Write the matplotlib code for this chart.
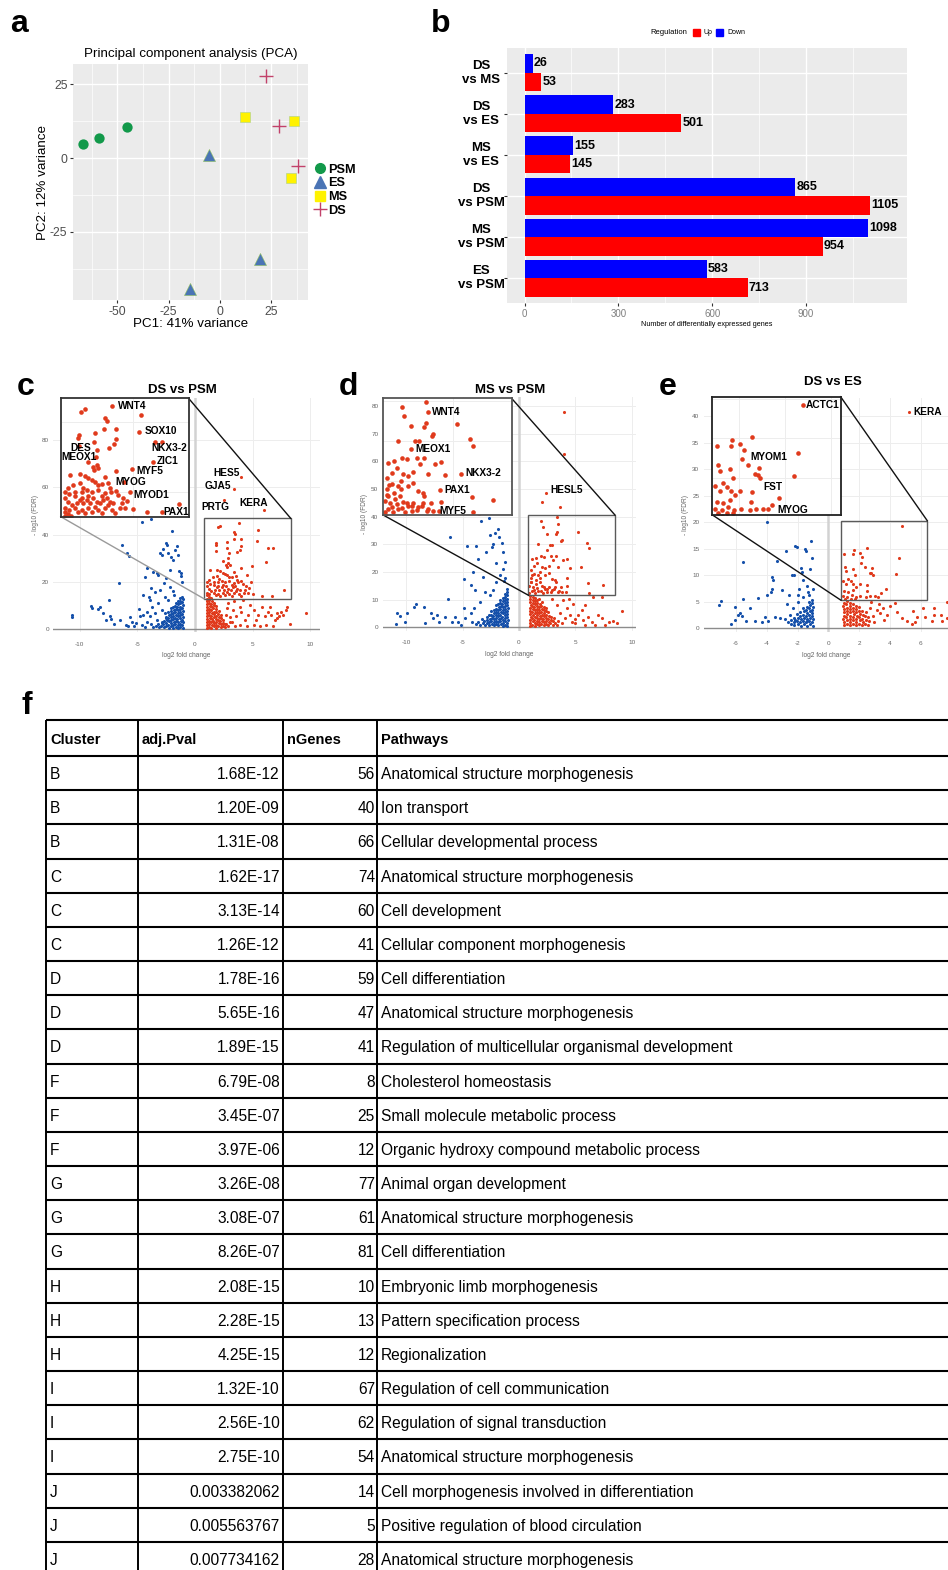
import numpy as np
import matplotlib.pyplot as plt
from matplotlib.patches import Rectangle
from matplotlib.lines import Line2D

plt.rcParams['font.family'] = ['Liberation Sans', 'DejaVu Sans']
plt.rcParams['axes.unicode_minus'] = False

W, H = 948, 1570
RED = '#E03A1C'
BLUE = '#1550AA'

# ---------------- data ----------------
# a: PCA
psm_pc1, psm_pc2 = [-66.7, -59.0, -45.2], [4.8, 6.8, 10.4]
es_pc1, es_pc2 = [-5.2, 19.8, -14.5], [1.0, -34.1, -44.3]
ms_pc1, ms_pc2 = [12.5, 36.4, 34.6], [14.0, 12.6, -6.7]
ds_pc1, ds_pc2 = [22.3, 28.9, 37.9], [27.8, 10.8, -2.6]

# b: number of DE genes
comparisons = ['DS\nvs MS', 'DS\nvs ES', 'MS\nvs ES', 'DS\nvs PSM', 'MS\nvs PSM', 'ES\nvs PSM']
deg_down = [26, 283, 155, 865, 1098, 583]
deg_up = [53, 501, 145, 1105, 954, 713]

# c: DS vs PSM volcano
c_down = [(-10.7, 6.1), (-10.7, 5.1), (-9.0, 9.9), (-8.9, 8.9), (-8.4, 8.5), (-8.2, 9.3), (-8.0, 7.0),
          (-7.5, 12.4), (-7.7, 3.9), (-7.4, 5.4), (-7.3, 4.5), (-7.0, 2.3), (-6.6, 19.7), (-6.5, 3.9),
          (-6.3, 35.8), (-5.9, 32.1), (-5.7, 31.1), (-6.0, 1.8), (-5.8, 1.4), (-5.6, 5.1), (-5.5, 3.1),
          (-5.3, 1.4), (-4.9, 8.5), (-4.8, 5.4), (-4.6, 45.4), (-3.8, 46.8), (-4.5, 14.4), (-4.2, 25.8),
          (-4.3, 22.0), (-4.0, 13.8), (-3.9, 12.4), (-3.8, 17.3), (-3.6, 24.4), (-3.3, 23.7), (-3.2, 23.0),
          (-3.0, 32.4), (-2.8, 33.8), (-2.9, 31.4), (-2.5, 36.6), (-2.4, 35.6), (-2.3, 32.1), (-2.1, 30.7),
          (-2.0, 41.7), (-2.2, 25.1), (-1.9, 29.3), (-1.7, 33.5), (-1.6, 35.2), (-1.5, 31.4), (-1.4, 24.8),
          (-1.2, 23.9), (-1.2, 22.5), (-1.1, 20.1), (-2.5, 21.5), (-2.7, 19.4), (-3.0, 16.6), (-3.5, 15.9),
          (-2.2, 17.7), (-1.9, 16.3), (-1.8, 14.5), (-2.6, 13.8), (-2.3, 12.4), (-3.2, 11.0), (-3.7, 9.6),
          (-4.2, 7.5), (-4.5, 6.1), (-3.9, 5.4), (-3.5, 6.8), (-2.9, 8.2), (-2.6, 6.8), (-3.3, 3.9),
          (-2.9, 3.2), (-2.5, 4.6), (-5.1, 2.5), (-4.6, 1.8), (-4.2, 3.2), (-3.8, 2.3), (-4.3, 1.1), (-3.6, 0.8),
          (-1.05, 0.4), (-1.1, 1.6), (-1.05, 2.9), (-1.12, 4.1), (-1.04, 5.3), (-1.1, 6.6), (-1.06, 7.8),
          (-1.13, 9.0), (-1.05, 10.2), (-1.1, 11.5), (-1.07, 12.7), (-1.12, 13.8),
          (-1.28, 0.9), (-1.3, 2.2), (-1.25, 3.5), (-1.32, 4.7), (-1.27, 6.0), (-1.3, 7.2), (-1.26, 8.4),
          (-1.33, 9.6), (-1.28, 10.9), (-1.31, 12.1), (-1.26, 13.3),
          (-1.48, 0.5), (-1.5, 1.7), (-1.45, 3.0), (-1.52, 4.3), (-1.47, 5.5), (-1.5, 6.8), (-1.46, 8.0),
          (-1.53, 9.3), (-1.48, 10.5), (-1.5, 11.8),
          (-1.68, 1.1), (-1.7, 2.4), (-1.66, 3.6), (-1.72, 4.9), (-1.67, 6.1), (-1.7, 7.4), (-1.65, 8.7),
          (-1.72, 10.0), (-1.69, 11.2),
          (-1.88, 0.6), (-1.9, 1.9), (-1.86, 3.1), (-1.92, 4.4), (-1.87, 5.7), (-1.9, 7.0), (-1.85, 8.3), (-1.91, 9.6),
          (-2.08, 1.2), (-2.1, 2.5), (-2.06, 3.8), (-2.12, 5.1), (-2.07, 6.4), (-2.1, 7.7), (-2.05, 9.0),
          (-2.28, 0.7), (-2.3, 2.0), (-2.26, 3.3), (-2.32, 4.6), (-2.27, 5.9), (-2.3, 7.2),
          (-2.5, 1.3), (-2.52, 2.6), (-2.47, 3.9), (-2.53, 5.2),
          (-2.72, 0.8), (-2.75, 2.1), (-2.7, 3.4), (-2.95, 1.4), (-2.9, 2.7), (-3.15, 0.9), (-3.2, 2.2), (-3.4, 1.5)]

c_up = [(1.02, 0.5), (1.05, 1.8), (1.0, 3.0), (1.06, 4.3), (1.02, 5.5), (1.05, 6.8), (1.0, 8.0), (1.06, 9.3),
        (1.03, 10.5), (1.05, 11.8), (1.01, 13.0), (1.06, 14.3), (1.03, 15.3),
        (1.22, 1.1), (1.25, 2.4), (1.2, 3.6), (1.26, 4.9), (1.22, 6.1), (1.25, 7.4), (1.2, 8.6), (1.26, 9.9),
        (1.23, 11.1), (1.25, 12.4), (1.21, 13.6), (1.24, 14.8),
        (1.42, 0.6), (1.45, 1.9), (1.4, 3.1), (1.46, 4.4), (1.42, 5.7), (1.45, 6.9), (1.4, 8.2), (1.46, 9.4),
        (1.43, 10.7), (1.45, 12.0), (1.41, 13.2),
        (1.62, 1.2), (1.65, 2.5), (1.6, 3.7), (1.66, 5.0), (1.62, 6.3), (1.65, 7.5), (1.6, 8.8), (1.66, 10.1), (1.63, 11.3),
        (1.82, 0.7), (1.85, 2.0), (1.8, 3.2), (1.86, 4.5), (1.82, 5.8), (1.85, 7.1), (1.8, 8.4), (1.86, 9.7),
        (2.02, 1.3), (2.05, 2.6), (2.0, 3.9), (2.06, 5.2), (2.02, 6.5), (2.05, 7.8),
        (2.22, 0.8), (2.25, 2.1), (2.2, 3.4), (2.26, 4.7), (2.22, 6.0),
        (2.42, 1.4), (2.45, 2.7), (2.4, 4.0), (2.62, 0.9), (2.65, 2.2), (2.85, 1.5), (3.0, 3.0),
        (9.6, 6.8), (8.2, 2.3), (7.5, 7.5), (7.6, 6.1), (7.3, 5.4), (7.1, 4.6), (6.9, 3.9), (6.6, 6.1), (6.5, 9.6),
        (6.3, 7.5), (6.1, 5.4), (5.8, 9.6), (5.5, 6.1), (5.3, 3.9), (5.1, 8.2), (4.8, 10.3), (4.6, 6.1), (4.3, 3.9),
        (4.0, 7.5), (3.9, 9.6), (3.6, 5.4), (3.3, 8.2), (3.2, 3.2), (2.9, 11.0), (2.7, 6.1), (2.6, 2.3), (6.2, 1.8),
        (6.8, 1.4), (5.6, 1.4), (5.1, 1.8), (4.5, 1.4), (3.9, 1.8), (3.5, 1.4), (7.9, 8.2), (8.0, 9.3), (7.1, 6.8),
        (3.4, 11.8), (4.2, 12.2), (3.0, 5.0), (2.8, 8.8),
        (4.02, 64.2), (3.41, 59.2), (2.52, 54.6), (6.01, 50.5),
        (3.78, 44.8), (5.50, 42.1), (1.97, 43.1), (2.21, 43.8), (3.38, 41.3), (3.48, 40.4), (3.34, 38.0),
        (4.03, 38.0), (2.80, 37.0), (1.86, 36.4), (1.82, 35.6), (4.01, 35.1), (5.40, 37.2), (6.32, 34.45),
        (6.75, 34.45), (2.76, 34.5), (3.93, 33.7), (3.64, 32.7), (2.93, 32.1), (6.18, 28.6), (4.97, 26.7),
        (2.84, 30.1), (2.89, 27.8), (3.0, 27.0), (2.76, 26.3), (4.03, 26.0), (1.33, 24.9), (1.92, 25.1),
        (2.21, 24.7), (2.40, 23.9), (2.60, 23.4), (2.80, 22.8), (2.95, 22.0), (3.19, 22.2), (3.58, 22.5),
        (1.03, 20.1), (1.27, 19.3), (1.62, 20.1), (2.01, 19.9), (2.31, 20.6), (2.64, 20.1), (2.99, 20.6),
        (3.38, 19.6), (3.74, 20.1), (4.01, 20.3), (4.50, 23.0), (4.85, 20.1), (4.42, 18.4), (4.66, 17.4),
        (5.01, 15.1), (5.83, 14.2), (6.71, 14.2), (7.73, 16.4), (1.84, 33.2), (2.40, 28.7), (2.70, 27.3),
        (1.92, 22.5), (1.52, 22.0), (1.23, 21.0), (2.11, 21.2), (3.38, 24.4), (3.68, 21.0),
        (1.03, 18.2), (1.23, 17.2), (1.43, 16.3), (1.62, 15.3), (1.82, 14.3), (2.01, 14.8), (2.21, 13.9),
        (2.41, 15.3), (2.60, 14.3), (2.80, 15.8), (2.99, 14.8), (3.19, 13.9), (3.38, 15.3), (3.58, 16.3),
        (3.78, 14.8), (3.97, 13.9), (4.27, 15.3), (1.72, 16.7), (1.92, 17.7), (2.11, 16.7), (2.31, 17.7),
        (2.50, 16.7), (2.70, 18.2), (2.89, 17.2), (3.09, 16.7), (3.29, 17.7), (3.48, 18.2), (3.68, 17.2),
        (3.87, 16.7), (4.36, 16.7), (4.56, 15.3), (1.62, 18.7), (2.01, 18.4), (2.41, 18.7), (3.19, 18.7), (4.17, 19.1)]

# d: MS vs PSM volcano
d_down = [(-10.9, 1.3), (-10.8, 5.0), (-10.6, 4.2), (-10.1, 2.0), (-9.9, 5.0), (-9.3, 7.4), (-9.1, 8.6),
          (-8.4, 7.4), (-8.3, 1.4), (-7.8, 5.0), (-7.6, 3.5), (-7.3, 4.4), (-7.1, 2.0), (-6.6, 3.8),
          (-6.3, 10.4), (-6.1, 32.5), (-5.9, 2.0), (-5.7, 3.8), (-5.4, 2.0), (-4.9, 17.6), (-4.9, 6.8),
          (-4.6, 29.3), (-4.3, 15.4), (-4.1, 20.0), (-3.9, 13.4), (-3.8, 29.3), (-3.6, 24.8), (-3.4, 38.5),
          (-3.2, 18.2), (-3.0, 12.8), (-2.9, 27.4), (-2.7, 39.7), (-2.6, 33.4), (-2.4, 28.9), (-2.3, 30.1),
          (-2.1, 34.1), (-2.0, 23.3), (-1.9, 35.5), (-1.8, 32.5), (-1.7, 19.0), (-1.5, 30.5), (-1.4, 27.2),
          (-1.4, 21.2), (-1.3, 16.6), (-1.2, 23.6), (-1.2, 17.8), (-1.1, 14.0), (-2.0, 16.4), (-2.3, 13.4),
          (-2.6, 11.6), (-3.5, 9.2), (-4.0, 6.8), (-4.3, 5.0), (-4.8, 3.2), (-5.1, 0.8), (-4.2, 2.0),
          (-1.02, 0.5), (-1.06, 1.6), (-1.01, 2.7), (-1.07, 3.8), (-1.03, 4.9), (-1.06, 6.0), (-1.01, 7.1),
          (-1.07, 8.2), (-1.04, 9.3), (-1.06, 10.4), (-1.02, 11.5), (-1.07, 12.6),
          (-1.22, 1.0), (-1.26, 2.1), (-1.21, 3.2), (-1.27, 4.3), (-1.23, 5.4), (-1.26, 6.5), (-1.21, 7.6),
          (-1.27, 8.7), (-1.24, 9.8), (-1.26, 10.9), (-1.22, 12.0),
          (-1.42, 0.6), (-1.46, 1.7), (-1.41, 2.8), (-1.47, 3.9), (-1.43, 5.0), (-1.46, 6.1), (-1.41, 7.2),
          (-1.47, 8.3), (-1.44, 9.4), (-1.46, 10.5),
          (-1.62, 1.1), (-1.66, 2.2), (-1.61, 3.3), (-1.67, 4.4), (-1.63, 5.5), (-1.66, 6.6), (-1.61, 7.7),
          (-1.67, 8.8), (-1.64, 9.9),
          (-1.82, 0.7), (-1.86, 1.8), (-1.81, 2.9), (-1.87, 4.0), (-1.83, 5.1), (-1.86, 6.2), (-1.81, 7.3), (-1.87, 8.6),
          (-2.02, 1.2), (-2.06, 2.3), (-2.01, 3.4), (-2.07, 4.5), (-2.03, 5.6), (-2.06, 6.7), (-2.02, 7.9),
          (-2.22, 0.8), (-2.26, 1.9), (-2.21, 3.0), (-2.27, 4.1), (-2.23, 5.2), (-2.26, 6.4),
          (-2.42, 1.3), (-2.46, 2.4), (-2.41, 3.5), (-2.47, 4.6), (-2.44, 5.8),
          (-2.62, 0.9), (-2.66, 2.0), (-2.61, 3.1), (-2.67, 4.3),
          (-2.82, 1.4), (-2.86, 2.5), (-2.84, 3.7), (-3.02, 1.0), (-3.06, 2.1), (-3.22, 1.5), (-3.3, 2.9),
          (-3.45, 0.8), (-3.6, 2.0), (-3.8, 1.2)]

d_up = [(0.98, 0.5), (1.02, 1.6), (0.97, 2.7), (1.03, 3.8), (0.99, 4.9), (1.02, 6.0), (0.97, 7.1), (1.03, 8.2),
        (1.0, 9.3), (1.02, 10.4), (0.98, 11.3),
        (1.18, 1.0), (1.22, 2.1), (1.17, 3.2), (1.23, 4.3), (1.19, 5.4), (1.22, 6.5), (1.17, 7.6), (1.23, 8.7),
        (1.2, 9.8), (1.22, 10.9),
        (1.38, 0.6), (1.42, 1.7), (1.37, 2.8), (1.43, 3.9), (1.39, 5.0), (1.42, 6.1), (1.37, 7.2), (1.43, 8.3),
        (1.4, 9.4), (1.42, 10.5),
        (1.58, 1.1), (1.62, 2.2), (1.57, 3.3), (1.63, 4.4), (1.59, 5.5), (1.62, 6.6), (1.57, 7.7), (1.63, 8.8), (1.6, 9.9),
        (1.78, 0.7), (1.82, 1.8), (1.77, 2.9), (1.83, 4.0), (1.79, 5.1), (1.82, 6.2), (1.77, 7.3), (1.83, 8.4), (1.8, 10.2),
        (1.98, 1.2), (2.02, 2.3), (1.97, 3.4), (2.03, 4.5), (1.99, 5.6), (2.02, 6.7), (1.97, 7.8), (2.03, 9.0),
        (2.18, 0.8), (2.22, 1.9), (2.17, 3.0), (2.23, 4.1), (2.19, 5.2), (2.22, 6.3), (2.18, 7.5),
        (2.38, 1.3), (2.42, 2.4), (2.37, 3.5), (2.43, 4.6), (2.39, 5.8), (2.41, 7.0),
        (2.58, 0.9), (2.62, 2.0), (2.57, 3.1), (2.63, 4.2), (2.6, 5.4),
        (2.78, 1.4), (2.82, 2.5), (2.8, 3.7), (2.98, 1.0), (3.02, 2.2), (3.2, 1.5), (3.1, 3.3), (3.4, 0.9), (3.5, 2.3),
        (2.37, 48.4), (2.07, 45.5), (3.64, 43.5), (3.99, 78.0), (4.02, 62.8),
        (9.1, 5.9), (8.37, 2.4), (8.73, 1.4), (7.40, 10.8), (6.54, 11.0), (5.56, 6.2), (5.27, 4.4), (6.15, 3.8),
        (7.04, 4.4), (7.34, 3.2), (6.45, 2.0), (5.71, 2.6), (4.67, 2.0), (4.08, 3.2), (3.64, 5.0), (4.23, 6.8),
        (4.82, 8.6), (3.34, 8.0), (2.90, 10.4), (3.93, 9.8), (4.97, 1.4), (6.75, 0.8), (5.86, 0.8), (4.5, 4.5),
        (5.0, 3.0), (3.8, 1.5), (4.4, 10.2), (5.9, 8.0), (7.6, 1.0), (8.0, 1.8),
        (3.37, 39.8), (3.49, 37.3), (1.97, 38.5), (2.09, 36.2), (2.49, 33.8), (3.37, 34.6), (3.29, 33.6),
        (3.73, 31.3), (3.83, 31.7), (5.22, 34.3), (6.02, 30.6), (6.18, 28.7), (1.73, 30.1), (2.73, 29.9),
        (2.95, 29.9), (2.49, 28.0), (1.93, 25.8), (1.49, 25.0), (2.23, 25.6), (2.83, 25.8), (3.29, 25.7),
        (3.03, 24.2), (3.93, 24.2), (4.29, 24.8), (4.53, 21.5), (3.49, 21.9), (2.63, 22.3), (2.29, 21.3),
        (2.03, 21.9), (1.03, 20.9), (1.33, 19.2), (1.73, 18.8), (2.33, 18.8), (2.63, 19.6), (5.48, 21.9),
        (4.23, 17.8), (2.89, 17.6), (3.19, 17.2), (3.29, 16.4), (3.69, 14.6), (4.29, 14.9), (4.15, 12.7),
        (6.16, 16.0), (6.22, 12.4), (7.42, 15.4), (1.03, 16.5), (1.23, 14.6), (1.53, 15.5), (1.83, 16.4),
        (2.03, 14.9), (2.33, 13.9), (2.63, 14.7), (2.93, 13.5), (3.19, 14.6), (3.53, 13.1), (3.83, 12.7),
        (1.13, 13.1), (1.43, 12.4), (1.73, 13.1), (2.13, 12.4), (2.53, 12.7), (0.93, 12.3), (1.03, 18.0),
        (0.93, 15.1), (1.33, 13.5), (1.63, 14.3), (1.93, 13.3), (2.23, 14.7), (2.53, 13.9), (2.83, 12.9),
        (3.13, 13.9), (3.43, 12.7), (1.09, 16.4), (1.49, 17.2), (1.89, 18.0), (1.17, 19.0), (1.33, 22.1),
        (1.63, 23.3), (1.13, 24.6), (1.89, 20.1)]

# e: DS vs ES volcano
e_down = [(-7.08, 4.4), (-6.99, 5.2), (-6.34, 0.8), (-6.06, 4.1), (-6.06, 1.6), (-5.84, 2.5), (-5.73, 2.8),
          (-5.62, 2.4), (-5.52, 5.5), (-5.52, 12.6), (-5.35, 1.3), (-5.09, 3.8), (-4.76, 1.4), (-4.54, 5.7),
          (-4.33, 1.1), (-4.11, 2.2), (-3.95, 6.3), (-3.89, 1.3), (-3.74, 6.9), (-3.68, 9.7), (-3.61, 9.2),
          (-3.46, 2.2), (-3.35, 12.7), (-3.14, 1.9), (-3.03, 7.2), (-2.81, 1.8), (-2.75, 14.5), (-2.71, 4.6),
          (-2.54, 6.3), (-2.38, 10.1), (-2.23, 10.1), (-2.16, 15.6), (-2.05, 15.4), (-1.99, 6.3), (-1.92, 7.4),
          (-1.79, 11.3), (-1.73, 10.7), (-1.62, 9.1), (-1.51, 15.0), (-1.45, 14.6), (-1.36, 7.9), (-1.30, 6.9),
          (-1.19, 11.2), (-1.15, 16.4), (-1.08, 13.2), (-1.02, 7.5), (-1.23, 6.3), (-1.62, 6.0), (-1.95, 4.9),
          (-2.27, 3.8), (-2.49, 2.5), (-2.16, 1.6), (-1.41, 1.3), (-3.95, 20.1), (-3.68, 7.4),
          (-1.02, 0.5), (-1.06, 1.1), (-1.01, 1.7), (-1.07, 2.3), (-1.03, 2.9), (-1.06, 3.5), (-1.01, 4.1),
          (-1.05, 4.7), (-1.03, 5.3),
          (-1.2, 0.8), (-1.24, 1.4), (-1.19, 2.0), (-1.25, 2.6), (-1.21, 3.2), (-1.24, 3.8), (-1.2, 4.4), (-1.23, 5.0),
          (-1.4, 0.5), (-1.44, 1.1), (-1.39, 1.7), (-1.45, 2.3), (-1.41, 2.9), (-1.44, 3.5), (-1.4, 4.1),
          (-1.6, 0.8), (-1.64, 1.4), (-1.59, 2.0), (-1.65, 2.6), (-1.61, 3.2), (-1.63, 3.9),
          (-1.8, 0.5), (-1.84, 1.1), (-1.79, 1.7), (-1.85, 2.3), (-1.81, 3.0),
          (-2.0, 0.8), (-2.04, 1.4), (-1.99, 2.0), (-2.05, 2.7),
          (-2.2, 0.6), (-2.24, 1.2), (-2.22, 1.9), (-2.4, 0.9), (-2.45, 1.6), (-2.6, 1.2)]

e_up = [(1.0, 0.6), (1.03, 1.2), (0.98, 1.8), (1.04, 2.4), (1.0, 3.0), (1.03, 3.6), (0.98, 4.2), (1.02, 4.8),
        (1.2, 0.9), (1.23, 1.5), (1.18, 2.1), (1.24, 2.7), (1.2, 3.3), (1.22, 3.9), (1.18, 4.5), (1.22, 5.1),
        (1.4, 0.6), (1.43, 1.2), (1.38, 1.8), (1.44, 2.4), (1.4, 3.0), (1.42, 3.6), (1.38, 4.2), (1.42, 4.8),
        (1.6, 0.9), (1.63, 1.5), (1.58, 2.1), (1.64, 2.7), (1.6, 3.3), (1.62, 3.9), (1.58, 4.5),
        (1.8, 0.6), (1.83, 1.2), (1.78, 1.8), (1.84, 2.4), (1.8, 3.0), (1.82, 3.6), (1.79, 4.3),
        (2.0, 0.9), (2.03, 1.5), (1.98, 2.1), (2.04, 2.7), (2.0, 3.3), (2.02, 4.0),
        (2.2, 0.6), (2.23, 1.2), (2.18, 1.8), (2.24, 2.5), (2.2, 3.2),
        (2.4, 0.9), (2.43, 1.6), (2.38, 2.3), (2.42, 3.0), (2.6, 0.7), (2.63, 1.4), (2.58, 2.2),
        (5.26, 40.9), (7.68, 5.0), (6.87, 3.8), (7.30, 2.5), (6.87, 2.6), (6.28, 2.2), (6.17, 3.8), (5.78, 2.2),
        (5.52, 3.3), (5.65, 1.1), (5.46, 0.9), (4.76, 1.9), (5.09, 1.3), (4.44, 3.1), (4.0, 4.3), (3.79, 2.5),
        (4.33, 4.7), (3.57, 3.8), (3.36, 2.8), (3.14, 3.5), (2.93, 2.4), (2.71, 3.8), (7.36, 1.3), (6.71, 1.3),
        (3.0, 1.2), (3.3, 4.6), (2.8, 4.9), (3.6, 1.5), (7.7, 2.0),
        (4.80, 19.3), (2.54, 15.2), (1.69, 14.8), (1.01, 14.0), (1.62, 14.0), (2.03, 14.3), (2.22, 13.5),
        (4.58, 13.2), (2.10, 12.4), (2.39, 11.6), (1.08, 11.6), (1.59, 11.1), (2.87, 11.3), (1.16, 10.9),
        (2.68, 10.5), (2.80, 10.4), (2.90, 10.0), (4.40, 10.2), (1.74, 10.0), (0.94, 9.0), (1.30, 9.4),
        (1.45, 8.9), (1.16, 8.3), (1.62, 8.3), (2.03, 8.3), (2.54, 8.2), (1.81, 7.8), (3.75, 7.4), (1.01, 7.0),
        (1.30, 6.8), (1.59, 7.2), (2.51, 7.0), (3.41, 6.6), (0.94, 6.1), (1.23, 5.9), (1.52, 6.3), (1.77, 5.9),
        (2.06, 6.1), (2.47, 5.9), (2.73, 6.1), (3.05, 6.1), (3.24, 6.0), (1.08, 5.5), (1.45, 5.5), (1.74, 5.5)]

# f: pathway table
clusters = ['B', 'B', 'B', 'C', 'C', 'C', 'D', 'D', 'D', 'F', 'F', 'F',
            'G', 'G', 'G', 'H', 'H', 'H', 'I', 'I', 'I', 'J', 'J', 'J']
adj_pvals = ['1.68E-12', '1.20E-09', '1.31E-08', '1.62E-17', '3.13E-14', '1.26E-12',
             '1.78E-16', '5.65E-16', '1.89E-15', '6.79E-08', '3.45E-07', '3.97E-06',
             '3.26E-08', '3.08E-07', '8.26E-07', '2.08E-15', '2.28E-15', '4.25E-15',
             '1.32E-10', '2.56E-10', '2.75E-10', '0.003382062', '0.005563767', '0.007734162']
n_genes = [56, 40, 66, 74, 60, 41, 59, 47, 41, 8, 25, 12, 77, 61, 81, 10, 13, 12, 67, 62, 54, 14, 5, 28]
pathways = ['Anatomical structure morphogenesis', 'Ion transport', 'Cellular developmental process',
            'Anatomical structure morphogenesis', 'Cell development', 'Cellular component morphogenesis',
            'Cell differentiation', 'Anatomical structure morphogenesis',
            'Regulation of multicellular organismal development', 'Cholesterol homeostasis',
            'Small molecule metabolic process', 'Organic hydroxy compound metabolic process',
            'Animal organ development', 'Anatomical structure morphogenesis', 'Cell differentiation',
            'Embryonic limb morphogenesis', 'Pattern specification process', 'Regionalization',
            'Regulation of cell communication', 'Regulation of signal transduction',
            'Anatomical structure morphogenesis', 'Cell morphogenesis involved in differentiation',
            'Positive regulation of blood circulation', 'Anatomical structure morphogenesis']

# ---------------- figure ----------------
fig = plt.figure(figsize=(W / 100, H / 100), dpi=100)


def fx(x):
    return x / W


def fy(y):
    return 1 - y / H


def px_axes(l, t, r, b):
    return fig.add_axes([l / W, 1 - b / H, (r - l) / W, (b - t) / H])


# panel a
ax = px_axes(73, 64, 308, 300)
ax.set_facecolor('#EBEBEB')
ax.scatter(psm_pc1, psm_pc2, s=55, marker='o', color='#12994A', lw=0, zorder=3)
ax.scatter(es_pc1, es_pc2, s=75, marker='^', color='#4A74B5', edgecolor='#8DBF5A', lw=0.4, zorder=3)
ax.scatter(ms_pc1, ms_pc2, s=48, marker='s', color='#FFF200', edgecolor='#A8D08D', lw=0.4, zorder=3)
ax.scatter(ds_pc1, ds_pc2, s=90, marker='+', color='#C2416A', lw=1.0, zorder=3)
ax.set_xticks([-50, -25, 0, 25])
ax.set_yticks([-25, 0, 25])
ax.set_xticks([-62.5, -37.5, -12.5, 12.5, 37.5], minor=True)
ax.set_yticks([-37.5, -12.5, 12.5], minor=True)
ax.set_xlim(-71.6, 43)
ax.set_ylim(-48.1, 31.9)
ax.grid(which='major', color='white', lw=1.0)
ax.grid(which='minor', color='white', lw=0.5)
ax.set_axisbelow(True)
for s in ax.spines.values():
    s.set_visible(False)
ax.tick_params(which='major', length=2.5, color='#333333', labelsize=8.8, labelcolor='#4D4D4D', pad=1.5)
ax.tick_params(which='minor', length=0)
ax.set_xlabel('PC1: 41% variance', fontsize=9.6, labelpad=0)
ax.set_ylabel('PC2: 12% variance', fontsize=9.6, labelpad=1)
ax.set_title('Principal component analysis (PCA)', fontsize=9.6, pad=5)
handles = [Line2D([], [], ls='', marker='o', ms=7, color='#12994A'),
           Line2D([], [], ls='', marker='^', ms=8, color='#4A74B5'),
           Line2D([], [], ls='', marker='s', ms=7, color='#FFF200'),
           Line2D([], [], ls='', marker='+', ms=10, mew=1.0, color='#C2416A')]
ax.legend(handles, ['PSM', 'ES', 'MS', 'DS'], loc='center left', bbox_to_anchor=(1.0, 0.465),
          frameon=False, prop={'weight': 'bold', 'size': 9.2}, handlelength=0.8, handletextpad=0.3,
          labelspacing=0.12, borderpad=0)

# panel b
ax = px_axes(507, 48, 907, 303)
ax.set_facecolor('#EBEBEB')
ypos = np.arange(len(comparisons))
ax.barh(ypos - 0.225, deg_down, height=0.45, color='#0000FF', zorder=3)
ax.barh(ypos + 0.225, deg_up, height=0.45, color='#FF0000', zorder=3)
for i in range(len(comparisons)):
    ax.text(deg_down[i] + 4, ypos[i] - 0.225, str(deg_down[i]), va='center', ha='left',
            fontsize=9, fontweight='bold', zorder=4)
    ax.text(deg_up[i] + 4, ypos[i] + 0.225, str(deg_up[i]), va='center', ha='left',
            fontsize=9, fontweight='bold', zorder=4)
    ax.text(-0.065, ypos[i], comparisons[i], transform=ax.get_yaxis_transform(), ha='center',
            va='center', fontsize=9.5, fontweight='bold', linespacing=1.25)
ax.set_xticks([0, 300, 600, 900])
ax.set_xticks([150, 450, 750, 1050], minor=True)
ax.set_yticks(ypos)
ax.set_yticklabels([])
ax.set_xlim(-56, 1223)
ax.set_ylim(5.6, -0.6)
ax.grid(which='major', color='white', lw=1.0)
ax.grid(which='minor', color='white', lw=0.5)
ax.set_axisbelow(True)
for s in ax.spines.values():
    s.set_visible(False)
ax.tick_params(which='major', length=2, color='#333333', labelsize=7, labelcolor='#7F7F7F', pad=2)
ax.tick_params(which='minor', length=0)
ax.set_xlabel('Number of differentially expressed genes', fontsize=5.2, labelpad=2)
fig.text(fx(650), fy(32), 'Regulation', fontsize=5.5, va='center', ha='left')
fig.patches.append(Rectangle((fx(693), fy(36)), 7 / W, 7 / H, transform=fig.transFigure, color='#FF0000'))
fig.text(fx(703), fy(32), 'Up', fontsize=5, va='center', ha='left')
fig.patches.append(Rectangle((fx(716), fy(36)), 7 / W, 7 / H, transform=fig.transFigure, color='#0000FF'))
fig.text(fx(727), fy(32), 'Down', fontsize=5, va='center', ha='left')


# panels c-e
def volcano(rect, xlim, ylim, xticks, yticks, down, up, box, inset, ins_labels, main_labels,
            title, title_xy, link_cols, frame_col):
    ax = px_axes(*rect)
    ax.set_xticks(xticks)
    ax.set_yticks(yticks)
    ax.set_xlim(*xlim)
    ax.set_ylim(*ylim)
    ax.grid(True, color='#EDEDED', lw=0.7)
    ax.set_axisbelow(True)
    for s in ax.spines.values():
        s.set_visible(False)
    ax.axvline(0, color='#D2D2D2', lw=1.8, zorder=1)
    ax.axhline(0, color='#8C8C8C', lw=1.0, zorder=1)
    ax.tick_params(length=0, labelsize=4.6, labelcolor='#666666')
    ax.tick_params(axis='x', pad=7)
    ax.tick_params(axis='y', pad=3)
    dx, dy = np.array(down).T
    ux, uy = np.array(up).T
    ax.scatter(dx, dy, s=5, color=BLUE, lw=0, zorder=2)
    ax.scatter(ux, uy, s=5, color=RED, lw=0, zorder=2)
    ax.set_xlabel('log2 fold change', fontsize=4.8, color='#666666', labelpad=4)
    ax.set_ylabel('- log10 (FDR)', fontsize=4.8, color='#666666', labelpad=2)
    bx0, bx1, by0, by1 = box
    ax.add_patch(Rectangle((bx0, by0), bx1 - bx0, by1 - by0, fill=False, ec='#5A5A5A', lw=1.0, zorder=3))
    ix0, ix1, iy0, iy1 = inset
    ax.plot([bx1, ix1], [by1, iy1], color=link_cols[0], lw=1.0, zorder=3, clip_on=False)
    ax.plot([bx0, ix0], [by0, iy0], color=link_cols[1], lw=1.0, zorder=3, clip_on=False)
    axi = ax.inset_axes([ix0, iy0, ix1 - ix0, iy1 - iy0], transform=ax.transData, zorder=4)
    axi.set_xticks(xticks)
    axi.set_yticks(yticks)
    axi.set_xlim(bx0, bx1)
    axi.set_ylim(by0, by1)
    axi.grid(True, color='#EDEDED', lw=0.7)
    axi.set_axisbelow(True)
    axi.tick_params(length=0, labelbottom=False, labelleft=False)
    for s in axi.spines.values():
        s.set_color(frame_col)
        s.set_linewidth(1.3)
    axi.scatter(ux, uy, s=11, color=RED, lw=0)
    for name, tx, ty in ins_labels:
        axi.text(tx, ty, name, fontsize=7.3, fontweight='bold', va='center', ha='left', clip_on=False)
    for name, tx, ty in main_labels:
        ax.text(tx, ty, name, fontsize=7.3, fontweight='bold', va='center', ha='left', zorder=5)
    fig.text(fx(title_xy[0]), fy(title_xy[1]), title, ha='center', va='center',
             fontsize=9.5, fontweight='bold')


volcano((53.2, 397.9, 319.5, 632.1), (-12.3, 10.8), (-1.2, 97.8), [-10, -5, 0, 5, 10], [0, 20, 40, 60, 80],
        c_down, c_up, (0.78, 8.3, 12.9, 46.9), (-11.65, -0.55, 47.6, 97.6),
        [('WNT4', 4.17, 44.8), ('SOX10', 5.73, 37.5), ('NKX3-2', 6.12, 32.5), ('ZIC1', 6.42, 28.9),
         ('MYF5', 5.20, 26.0), ('MYOG', 4.01, 23.0), ('MYOD1', 5.05, 19.1), ('PAX1', 6.81, 14.2),
         ('DES', 1.33, 32.7), ('MEOX1', 0.80, 30.1)],
        [('HES5', 1.59, 65.9), ('GJA5', 0.87, 60.7), ('PRTG', 0.58, 51.8), ('KERA', 3.82, 53.3)],
        'DS vs PSM', (182, 390), ('#111111', '#9A9A9A'), '#333333')

volcano((382.6, 397.3, 636.2, 630.6), (-12.1, 10.4), (-1.2, 83.2), [-10, -5, 0, 5, 10],
        [0, 10, 20, 30, 40, 50, 60, 70, 80],
        d_down, d_up, (0.83, 8.52, 11.6, 40.6), (-12.04, -0.65, 40.6, 82.8),
        [('WNT4', 3.73, 37.1), ('MEOX1', 2.73, 28.0), ('NKX3-2', 5.76, 22.0), ('PAX1', 4.48, 17.8),
         ('MYF5', 4.22, 12.7)],
        [('HESL5', 2.81, 49.6)],
        'MS vs PSM', (510, 390), ('#111111', '#111111'), '#555555')

volcano((703.6, 397.8, 948.4, 631.5), (-8.1, 7.8), (-0.6, 43.5), [-6, -4, -2, 0, 2, 4, 6],
        [0, 5, 10, 15, 20, 25, 30, 35, 40],
        e_down, e_up, (0.82, 6.43, 5.3, 20.3), (-7.53, 0.80, 21.4, 43.7),
        [('ACTC1', 4.91, 19.2), ('MYOM1', 2.47, 12.7), ('FST', 3.05, 8.8), ('MYOG', 3.68, 5.9)],
        [('KERA', 5.52, 40.9)],
        'DS vs ES', (833, 382), ('#111111', '#111111'), '#222222')

# panel f: table drawn in pixel space
axt = fig.add_axes([0, 0, 1, 1])
axt.set_xlim(0, W)
axt.set_ylim(H, 0)
axt.axis('off')
top, head_bot, row_h = 720, 756, 34.17
col_x = [46, 138, 283, 377]
line_ys = [top, head_bot] + [head_bot + row_h * (k + 1) for k in range(len(clusters))]
for y in line_ys:
    axt.plot([col_x[0], W], [y, y], color='black', lw=1.5, solid_capstyle='butt')
for x in col_x:
    axt.plot([x, x], [top, H], color='black', lw=1.4, solid_capstyle='butt')
for x, name in zip([50, 142, 287, 381], ['Cluster', 'adj.Pval', 'nGenes', 'Pathways']):
    axt.text(x, 740, name, fontsize=10.5, fontweight='bold', va='center', ha='left')
for k in range(len(clusters)):
    yc = head_bot + row_h * (k + 0.5) + 1.5
    axt.text(50, yc, clusters[k], fontsize=11.2, va='center', ha='left')
    axt.text(280, yc, adj_pvals[k], fontsize=11.2, va='center', ha='right')
    axt.text(375, yc, str(n_genes[k]), fontsize=11.2, va='center', ha='right')
    axt.text(381, yc, pathways[k], fontsize=11.2, va='center', ha='left')

# panel letters
for letter, x, y in [('a', 10, 32), ('b', 431, 32), ('c', 17, 395), ('d', 339, 395), ('e', 659, 395),
                     ('f', 22, 714)]:
    fig.text(fx(x), fy(y), letter, fontsize=23, fontweight='bold', ha='left', va='baseline')

fig.savefig('out.png', dpi=100)
